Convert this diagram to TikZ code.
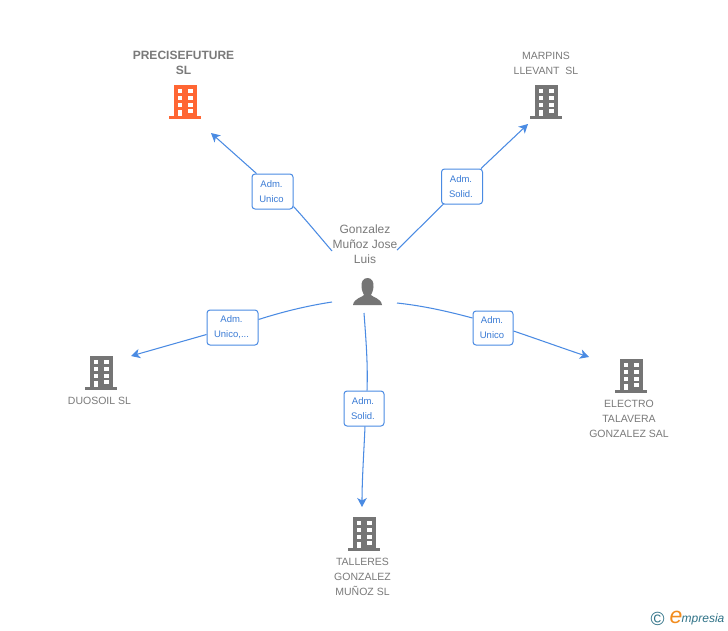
\documentclass[tikz,border=0pt]{standalone}
\usepackage{fontspec}
\setmainfont{Liberation Sans}
\usetikzlibrary{arrows.meta}
\definecolor{linkblue}{HTML}{4A8BE3}
\definecolor{labeltext}{HTML}{3A7BD5}
\definecolor{txtgray}{HTML}{7A7A7A}
\definecolor{bldgray}{HTML}{757575}
\definecolor{bldorange}{HTML}{FF6633}
\definecolor{logoteal}{HTML}{2F7287}
\definecolor{logoorange}{HTML}{F28C1E}
\newcommand{\building}[3]{%
 \begin{scope}[shift={(#1,#2)}]
  \fill[#3] (-11.5,-16) rectangle (11.5,15);
  \fill[#3] (-16,15) rectangle (16,18);
  \foreach \wy in {-12,-5,2} {
    \fill[white] (-7.5,\wy) rectangle (-2.8,\wy+4);
    \fill[white] (2.8,\wy) rectangle (7.5,\wy+4);
  }
  \fill[white] (-7.5,8.5) rectangle (-2.8,15);
  \fill[white] (2.8,7.5) rectangle (7.5,11.7);
 \end{scope}}
\tikzset{
  rolebox/.style={draw=linkblue,fill=white,rounded corners=3pt,line width=1pt,align=center,
     font=\fontsize{9.5}{15}\selectfont,text=labeltext,inner sep=0pt},
  link/.style={draw=linkblue,line width=1.05pt},
  linkarrow/.style={link,-{Stealth[length=9pt,width=9.5pt,inset=2.5pt]}},
  caption/.style={align=center,text=txtgray,font=\fontsize{10.5}{15}\selectfont,inner sep=0pt},
  titlecap/.style={caption,font=\fontsize{12}{15}\selectfont\bfseries},
  namecap/.style={caption,font=\fontsize{12}{15}\selectfont},
}
\begin{document}
\begin{tikzpicture}[x=1pt,y=-1pt]
\useasboundingbox[fill=white] (0,0) rectangle (728,630);

% buildings
\building{185}{101}{bldorange}
\building{546}{101}{bldgray}
\building{101}{372}{bldgray}
\building{631}{375}{bldgray}
\building{364}{533}{bldgray}

% person
\fill[bldgray] (367.5,278) .. controls (372,278) and (374,282) .. (373.5,287)
  .. controls (373,291) and (372,293) .. (371,295)
  .. controls (372,297) and (381,298) .. (382,305) -- (353,305)
  .. controls (354,298) and (363,297) .. (364,295)
  .. controls (363,293) and (362,291) .. (361.5,287)
  .. controls (361,282) and (363,278) .. (367.5,278) -- cycle;

% captions
\node[titlecap] (tPrecise) at (183.5,63) {PRECISEFUTURE\\SL};
\node[caption] (tMarpins) at (546,63) {MARPINS\\LLEVANT\ \ SL};
\node[caption] (tDuosoil) at (99.5,401) {DUOSOIL SL};
\node[caption] (tElectro) at (629,419) {ELECTRO\\TALAVERA\\GONZALEZ SAL};
\node[caption] (tTalleres) at (362.5,577) {TALLERES\\GONZALEZ\\MUÑOZ SL};
\node[namecap] (tPerson) at (365,244) {Gonzalez\\Muñoz Jose\\Luis};

% role boxes
\node[rolebox,minimum width=41pt,minimum height=35pt] (r1) at (272.5,191.5) {\hspace*{-2pt}Adm.\\\hspace*{-2pt}Unico};
\node[rolebox,minimum width=41pt,minimum height=35pt] (r2) at (462,186.5) {\hspace*{-2pt}Adm.\\\hspace*{-2pt}Solid.};
\node[rolebox,minimum width=51pt,minimum height=35pt] (r3) at (232.5,327.5) {\hspace*{-2pt}Adm.\\\hspace*{-2pt}Unico,...};
\node[rolebox,minimum width=40pt,minimum height=35pt] (r4) at (364,408.5) {\hspace*{-2pt}Adm.\\\hspace*{-2pt}Solid.};
\node[rolebox,minimum width=40pt,minimum height=34pt] (r5) at (493,328) {\hspace*{-2pt}Adm.\\\hspace*{-2pt}Unico};

% connector ends
\coordinate (s1) at (332,251);
\coordinate (s2) at (397,250);
\coordinate (s3) at (332,302);
\coordinate (s4) at (364,313);
\coordinate (s5) at (397,303);
\coordinate (e1) at (211,133);
\coordinate (e2) at (528,124);
\coordinate (e3) at (131,356);
\coordinate (e4) at (362,507);
\coordinate (e5) at (589,357);

% connectors
\draw[link] (s1) .. controls (320,237) and (306,220) .. ([shift={(0,-3)}]r1.south east);
\draw[linkarrow] ([shift={(5,0)}]r1.north west) -- (e1);
\draw[link] (s2) -- ([shift={(3,-1)}]r2.south west);
\draw[linkarrow] ([shift={(-2,0)}]r2.north east) -- (e2);
\draw[link] (s3) .. controls (306,306) and (282,312) .. ([shift={(0,-8)}]r3.east);
\draw[linkarrow] ([shift={(0,7)}]r3.west) -- (e3);
\draw[link] (s4) .. controls (366,340) and (368,365) .. ([shift={(3,0)}]r4.north);
\draw[linkarrow] ([shift={(1,0)}]r4.south) .. controls (364,450) and (362,480) .. (e4);
\draw[link] (s5) .. controls (425,306) and (450,312) .. ([shift={(0,-10)}]r5.west);
\draw[linkarrow] ([shift={(0,3)}]r5.east) .. controls (540,340) and (565,349) .. (e5);

% logo
\node[inner sep=0pt,text=logoteal,font=\fontsize{19}{19}\selectfont] (logoC) at (657.5,619) {©};
\node[inner sep=0pt,text=logoorange,font=\fontsize{23}{23}\selectfont\itshape] (logoE) at (676,617) {e};
\node[inner sep=0pt,text=logoteal,font=\fontsize{12}{12}\selectfont\itshape,anchor=west] (logoT) at (681.5,619) {mpresia};
\end{tikzpicture}
\end{document}
